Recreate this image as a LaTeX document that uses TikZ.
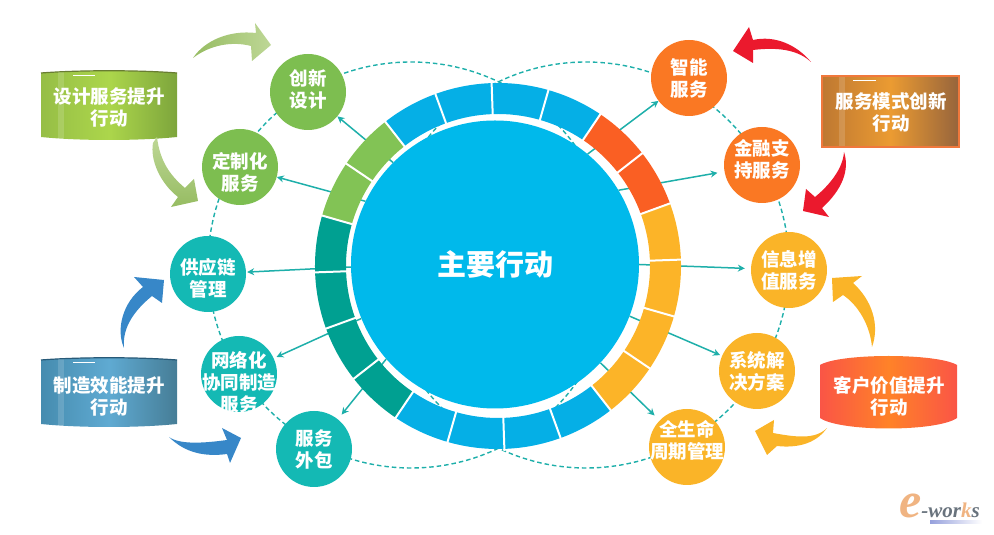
\documentclass[tikz,border=0pt]{standalone}
\usepackage{fontspec}
\setmainfont{Noto Sans CJK SC}
\newfontfamily\logofont{Liberation Serif}
\usetikzlibrary{arrows.meta}
\definecolor{mainblue}{RGB}{0,185,235}
\definecolor{ringblue}{RGB}{5,175,230}
\definecolor{ringorange}{RGB}{250,95,35}
\definecolor{ringyellow}{RGB}{252,180,40}
\definecolor{ringteal}{RGB}{0,160,145}
\definecolor{ringgreen}{RGB}{130,195,85}
\definecolor{dotgreen}{RGB}{125,190,80}
\definecolor{dotteal}{RGB}{20,185,180}
\definecolor{dotorange}{RGB}{250,120,35}
\definecolor{dotyellow}{RGB}{250,180,40}
\definecolor{linkteal}{RGB}{30,175,170}
\definecolor{swooshred}{RGB}{235,25,45}
\definecolor{swooshblue}{RGB}{55,135,200}
\definecolor{greenleft}{RGB}{150,190,70}
\definecolor{greenmid}{RGB}{172,214,75}
\definecolor{greenright}{RGB}{125,165,60}
\definecolor{greenrim}{RGB}{105,125,50}
\definecolor{blueleft}{RGB}{70,140,175}
\definecolor{bluemid}{RGB}{95,170,210}
\definecolor{blueright}{RGB}{70,125,150}
\definecolor{bluerim}{RGB}{40,90,120}
\definecolor{brownleft}{RGB}{190,120,50}
\definecolor{brownmid}{RGB}{235,155,50}
\definecolor{brownright}{RGB}{150,100,60}
\definecolor{brownrim}{RGB}{240,120,60}
\definecolor{redside}{RGB}{250,85,70}
\definecolor{redmid}{RGB}{255,130,40}
\definecolor{swooshpale}{RGB}{190,215,150}
\definecolor{swooshdark}{RGB}{150,188,98}
\definecolor{logobar}{RGB}{150,160,220}
\definecolor{logograin}{RGB}{105,115,125}
\definecolor{logopeach}{RGB}{240,180,130}
\tikzset{
	dot/.style={circle,minimum size=76pt,inner sep=0pt,fill=#1},
	dottext/.style={align=center,text=white,font=\fontsize{18.5}{22}\selectfont\bfseries,inner sep=0pt},
	boxtext/.style={align=center,text=white,font=\fontsize{18.5}{22}\selectfont\bfseries,inner sep=0pt},
	link/.style={draw=linkteal,line width=1.5pt,-{Stealth[length=7pt,width=7pt]}},
	dashring/.style={draw=linkteal,line width=1.4pt,dash pattern=on 4.5pt off 3pt},
	ringgap/.style={draw=white,line width=2pt},
	glint/.style={white,opacity=0.15},
}
\begin{document}
\begin{tikzpicture}[x=1pt,y=1pt]
	\useasboundingbox (0,0) rectangle (994,535);
	% dashed circles
	\coordinate (leftc) at (411,270);
	\coordinate (rightc) at (586,270);
	\draw[dashring] (leftc) circle (203pt);
	\draw[dashring] (rightc) circle (203pt);
	% middle
	\node[circle,minimum size=288pt,inner sep=0pt,fill=mainblue,text=white,font=\fontsize{29}{32}\selectfont\bfseries] (main) at (495,270.5) {主要行动};
	% outer dots
	\node[dot=dotgreen,label={[dottext,yshift=3pt]center:{创新\\设计}}] (chuangxin) at (308,443) {};
	\node[dot=dotgreen,label={[dottext,yshift=-5pt]center:{定制化\\服务}}] (dingzhi) at (240,368) {};
	\node[dot=dotteal,label={[dottext,yshift=-4pt]center:{供应链\\管理}}] (gongying) at (208,261) {};
	\node[dot=dotteal,label={[dottext,yshift=-8pt]center:{网络化\\协同制造\\服务}}] (wangluo) at (239,161) {};
	\node[dot=dotteal,label={[dottext]center:{服务\\外包}}] (waibao) at (314,86) {};
	\node[dot=dotorange,label={[dottext]center:{智能\\服务}}] (zhineng) at (689,457) {};
	\node[dot=dotorange,label={[dottext,yshift=6pt]center:{金融支\\持服务}}] (jinrong) at (762,370) {};
	\node[dot=dotyellow,label={[dottext]center:{信息增\\值服务}}] (xinxi) at (789,265) {};
	\node[dot=dotyellow,label={[dottext]center:{系统解\\决方案}}] (xitong) at (757,164) {};
	\node[dot=dotyellow,label={[dottext,yshift=7pt]center:{全生命\\周期管理}}] (quan) at (687,88) {};
	% arrows out of the middle
	\draw[link] (main.135) -- (chuangxin);
	\draw[link] (main.154) -- (dingzhi);
	\draw[link,shorten >=1pt] (main.181) -- (gongying);
	\draw[link,shorten >=3pt] (main.202) -- (wangluo);
	\draw[link,shorten >=6pt] (main.221) -- (waibao);
	\draw[link] (main.50) -- (zhineng);
	\draw[link,shorten >=7pt] (main.31) -- (jinrong);
	\draw[link,shorten >=6pt] (main.0) -- (xinxi);
	\draw[link,shorten >=2pt] (main.339) -- (xitong);
	\draw[link,shorten >=7pt] (main.317) -- (quan);
	% ring
	\begin{scope}[shift={(498,269)}]
		\fill[ringblue] (128:183pt) arc[start angle=128,end angle=56,radius=183pt] -- (56:152pt) arc[start angle=56,end angle=128,radius=152pt] -- cycle;
		\fill[ringorange] (56:183pt) arc[start angle=56,end angle=20,radius=183pt] -- (20:152pt) arc[start angle=20,end angle=56,radius=152pt] -- cycle;
		\fill[ringyellow] (20:183pt) arc[start angle=20,end angle=-52,radius=183pt] -- (-52:152pt) arc[start angle=-52,end angle=20,radius=152pt] -- cycle;
		\fill[ringblue] (-52:183pt) arc[start angle=-52,end angle=-124,radius=183pt] -- (-124:152pt) arc[start angle=-124,end angle=-52,radius=152pt] -- cycle;
		\fill[ringteal] (-124:183pt) arc[start angle=-124,end angle=-196,radius=183pt] -- (-196:152pt) arc[start angle=-196,end angle=-124,radius=152pt] -- cycle;
		\fill[ringgreen] (164:183pt) arc[start angle=164,end angle=128,radius=183pt] -- (128:152pt) arc[start angle=128,end angle=164,radius=152pt] -- cycle;
		\draw[ringgap] (128:150pt) -- (128:185pt) (110:150pt) -- (110:185pt) (92:150pt) -- (92:185pt) (74:150pt) -- (74:185pt) (56:150pt) -- (56:185pt);
		\draw[ringgap] (38:150pt) -- (38:185pt) (20:150pt) -- (20:185pt) (2:150pt) -- (2:185pt) (-16:150pt) -- (-16:185pt) (-34:150pt) -- (-34:185pt);
		\draw[ringgap] (-52:150pt) -- (-52:185pt) (-70:150pt) -- (-70:185pt) (-88:150pt) -- (-88:185pt) (-106:150pt) -- (-106:185pt) (-124:150pt) -- (-124:185pt);
		\draw[ringgap] (-142:150pt) -- (-142:185pt) (-160:150pt) -- (-160:185pt) (-178:150pt) -- (-178:185pt) (164:150pt) -- (164:185pt) (146:150pt) -- (146:185pt);
	\end{scope}
	% green box
	\shade[left color=greenleft,right color=greenright,middle color=greenmid] (41,462) .. controls (80,465) and (138,465) .. (177,462) -- (177,398) .. controls (138,394) and (80,394) .. (41,398) -- cycle;
	\draw[greenrim,line width=1.2pt] (41,462) .. controls (80,465) and (138,465) .. (177,462);
	\fill[glint] (58,396) rectangle (64,463);
	\draw[white,line width=0.8pt] (73,459.5) -- (95,459.5);
	\node[boxtext] (sheji) at (109,427.5) {设计服务提升\\行动};
	% blue box
	\shade[left color=blueleft,right color=blueright,middle color=bluemid] (41,175) .. controls (80,178) and (138,178) .. (177,175) -- (177,111) .. controls (138,107) and (80,107) .. (41,111) -- cycle;
	\draw[bluerim,line width=1.2pt] (41,175) .. controls (80,178) and (138,178) .. (177,175);
	\fill[glint] (58,109) rectangle (64,176);
	\draw[white,line width=0.8pt] (73,173) -- (95,173);
	\node[boxtext] (zhizao) at (109,139) {制造效能提升\\行动};
	% brown box
	\shade[left color=brownleft,right color=brownright,middle color=brownmid] (822,388) rectangle (959,459);
	\fill[glint] (839,388) rectangle (845,459);
	\draw[white,line width=0.8pt] (853,455) -- (876,455);
	\draw[brownrim,line width=1.4pt] (822,388) rectangle (959,459);
	\node[boxtext] (moshi) at (891,423) {服务模式创新\\行动};
	% red box
	\shade[left color=redside,right color=redside,middle color=redmid] (820,170) .. controls (840,182) and (937,182) .. (957,170) -- (957,117) .. controls (937,103) and (840,103) .. (820,117) -- cycle;
	\node[boxtext] (kehu) at (889,138.5) {客户价值提升\\行动};
	% swooshes
	\shade[left color=swooshdark,right color=swooshpale] (193,477) .. controls (205,495) and (230,505) .. (256,502) -- (255,512) -- (271,490) -- (252,474) -- (251,489) .. controls (232,494) and (210,490) .. (193,477) -- cycle;
	\shade[top color=swooshpale,bottom color=swooshdark] (157,398) .. controls (160,372) and (172,358) .. (185,347) -- (194,356) -- (198,334) -- (171,328) -- (178,338) .. controls (160,352) and (150,375) .. (153,392) -- cycle;
	\fill[swooshblue] (124,187) .. controls (116,205) and (122,232) .. (143,248) -- (134,258) -- (164,255) -- (162,232) -- (152,239) .. controls (135,225) and (122,208) .. (124,187) -- cycle;
	\fill[swooshblue] (169,98) .. controls (180,90) and (205,92) .. (227,95) -- (222,107) -- (241,97) -- (230,72) -- (227,81) .. controls (205,78) and (185,82) .. (169,98) -- cycle;
	\fill[swooshred] (811,473) .. controls (797,490) and (775,500) .. (753,495) -- (749,508) -- (733,484) -- (753,472) -- (753,485) .. controls (770,487) and (795,488) .. (811,473) -- cycle;
	\fill[swooshred] (844,383) .. controls (850,365) and (842,345) .. (822,327) -- (829,318) -- (803,324) -- (806,346) -- (815,338) .. controls (832,352) and (843,368) .. (844,383) -- cycle;
	\fill[dotyellow] (872,188) .. controls (880,210) and (872,235) .. (853,252) -- (862,259) -- (832,257) -- (833,233) -- (843,240) .. controls (858,230) and (870,210) .. (872,188) -- cycle;
	\fill[dotyellow] (827,107) .. controls (815,95) and (795,98) .. (773,102) -- (774,115) -- (755,104) -- (767,80) -- (777,89) .. controls (795,87) and (815,90) .. (827,107) -- cycle;
	% logo
	\shade[left color=logobar,right color=white] (930,11) rectangle (982,14);
	\node[inner sep=0pt,anchor=base west,font=\logofont\bfseries\itshape] (logo) at (899,17) {{\color{logopeach}\fontsize{50}{50}\selectfont e}{\color{logograin}\fontsize{21}{21}\selectfont -wor}{\color{logopeach}\fontsize{21}{21}\selectfont k}{\color{logograin}\fontsize{21}{21}\selectfont s}};
\end{tikzpicture}
\end{document}
